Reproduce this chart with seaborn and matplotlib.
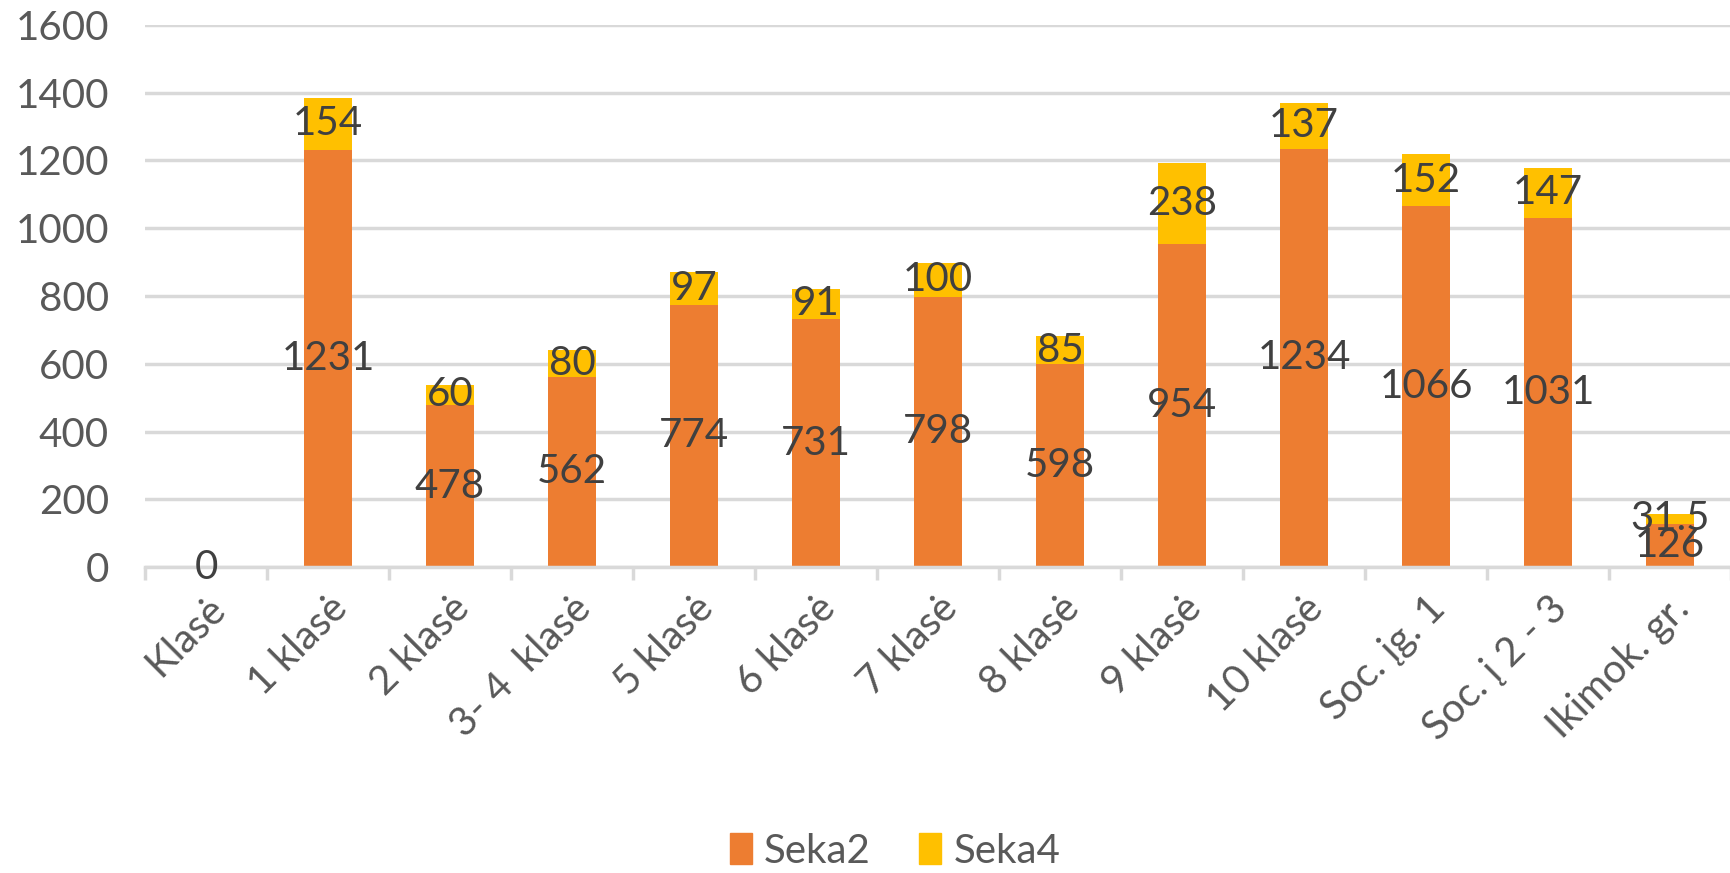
import numpy as np
import pandas as pd
import matplotlib.pyplot as plt
import matplotlib.patches as mpatches
import seaborn as sns

categories = ["Klasė", "1 klasė", "2 klasė", "3- 4  klasė", "5 klasė", "6 klasė", "7 klasė",
              "8 klasė", "9 klasė", "10 klasė", "Soc. įg. 1", "Soc. į 2 - 3", "Ikimok. gr."]
seka2 = [0, 1231, 478, 562, 774, 731, 798, 598, 954, 1234, 1066, 1031, 126]
seka4 = [np.nan, 154, 60, 80, 97, 91, 100, 85, 238, 137, 152, 147, 31.5]
yticks = [0, 200, 400, 600, 800, 1000, 1200, 1400, 1600]

orange = "#ED7D31"
yellow = "#FFC000"
grid_c = "#D9D9D9"
text_c = "#595959"
label_c = "#404040"

sns.set_theme(style="white")
plt.rcParams["font.family"] = ["Lato", "DejaVu Sans"]

df = pd.DataFrame({"cat": categories, "Seka2": seka2, "Seka4": seka4})
df["total"] = df["Seka2"] + df["Seka4"].fillna(0)

fig = plt.figure(figsize=(17.31, 8.73), dpi=100)
ax = fig.add_axes([0.0838, 0.3505, 1 - 0.0838, 0.9714 - 0.3505])

# stacked: total in yellow, then Seka2 on top of it
sns.barplot(data=df, x="cat", y="total", color=yellow, width=0.4, saturation=1,
            linewidth=0, ax=ax)
sns.barplot(data=df, x="cat", y="Seka2", color=orange, width=0.4, saturation=1,
            linewidth=0, ax=ax)

# labels in the middle of each segment
ax.bar_label(ax.containers[1], labels=[f"{v:g}" for v in seka2], label_type="center",
             fontsize=29, color=label_c)
for i, (a, b) in enumerate(zip(seka2, seka4)):
    if not np.isnan(b):
        ax.text(i, a + b / 2, f"{b:g}", ha="center", va="center", fontsize=29, color=label_c)

ax.set_ylim(0, 1600)
ax.set_xlim(-0.5, len(categories) - 0.5)
ax.set_yticks(yticks)
ax.yaxis.grid(True, color=grid_c, linewidth=2.5)
ax.set_axisbelow(True)
ax.set_xlabel("")
ax.set_ylabel("")

for s in ["top", "right", "left"]:
    ax.spines[s].set_visible(False)
ax.spines["bottom"].set_color(grid_c)
ax.spines["bottom"].set_linewidth(2.5)

ax.tick_params(axis="y", length=0, pad=26, labelsize=29, labelcolor=text_c)
ax.set_xticks(np.arange(len(categories)))
ax.set_xticklabels(categories, rotation=45, ha="right", rotation_mode="anchor")
ax.tick_params(axis="x", which="major", bottom=True, length=0, pad=16, labelsize=29,
               labelcolor=text_c)
ax.set_xticks(np.arange(len(categories) + 1) - 0.5, minor=True)
ax.tick_params(axis="x", which="minor", bottom=True, length=9, width=2.5, color=grid_c)

handles = [mpatches.Patch(color=orange, label="Seka2"), mpatches.Patch(color=yellow, label="Seka4")]
fig.legend(handles=handles, loc="center", bbox_to_anchor=(0.517, 0.025), ncol=2, frameon=False,
           fontsize=29, labelcolor=text_c, handlelength=0.55, handleheight=0.8,
           handletextpad=0.3, columnspacing=1.2)

fig.savefig("out.png", dpi=100)
